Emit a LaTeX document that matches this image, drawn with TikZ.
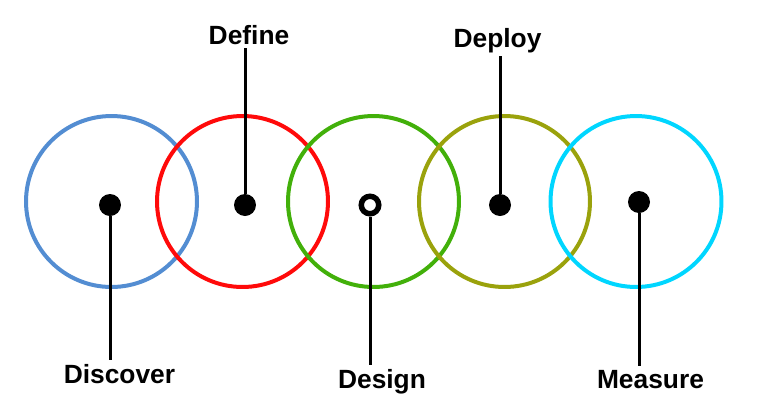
\documentclass[tikz,border=0pt]{standalone}
\usepackage{fontspec}
\setmainfont{Liberation Sans}
\usetikzlibrary{calc}

\definecolor{ringblue}{RGB}{83,141,210}
\definecolor{ringred}{RGB}{255,10,10}
\definecolor{ringgreen}{RGB}{66,176,10}
\definecolor{ringolive}{RGB}{154,162,12}
\definecolor{ringcyan}{RGB}{0,214,255}

\tikzset{
  ring/.style={circle, draw=#1, line width=0.08cm, minimum size=3.42cm, inner sep=0pt},
  dot/.style={circle, fill=black, minimum size=0.44cm, inner sep=0pt},
  hollowdot/.style={circle, draw=black, fill=white, line width=0.11cm, minimum size=0.35cm, inner sep=0pt},
  stem/.style={line width=0.06cm},
  stagelabel/.style={font=\fontsize{15}{18}\selectfont\bfseries, inner sep=2pt, anchor=base}
}

\begin{document}
\begin{tikzpicture}[x=0.02cm, y=-0.02cm]
    \useasboundingbox (0, 0) rectangle (768, 410);

    % the five rings
    \node[ring=ringblue] (discover ring) at (111.5, 201.5) {};
    \node[ring=ringred] (define ring) at (242.5, 201.5) {};
    \node[ring=ringgreen] (design ring) at (373.5, 201.5) {};
    \node[ring=ringolive] (deploy ring) at (504.5, 201.5) {};
    \node[ring=ringcyan] (measure ring) at (636, 201.5) {};

    % labels
    \node[stagelabel] (discover label) at (119.5, 383) {Discover};
    \node[stagelabel] (define label) at (249, 44) {Define};
    \node[stagelabel] (design label) at (382, 388) {Design};
    \node[stagelabel] (deploy label) at (497.5, 47) {Deploy};
    \node[stagelabel] (measure label) at (650.5, 388) {Measure};

    % dots
    \node[dot] (discover dot) at (110, 205) {};
    \node[dot] (define dot) at (245, 205) {};
    \node[hollowdot] (design dot) at (370, 205) {};
    \node[dot] (deploy dot) at (500, 205) {};
    \node[dot] (measure dot) at (639, 202) {};

    % stems
    \draw[stem] (discover dot.south) -- (discover dot.south |- discover label.north);
    \draw[stem] (define dot.north) -- (define dot.north |- define label.south);
    \draw[stem] (design dot.south) -- (design dot.south |- design label.north);
    \draw[stem] (deploy dot.north) -- (deploy dot.north |- deploy label.south);
    \draw[stem] (measure dot.south) -- (measure dot.south |- measure label.north);
\end{tikzpicture}
\end{document}
